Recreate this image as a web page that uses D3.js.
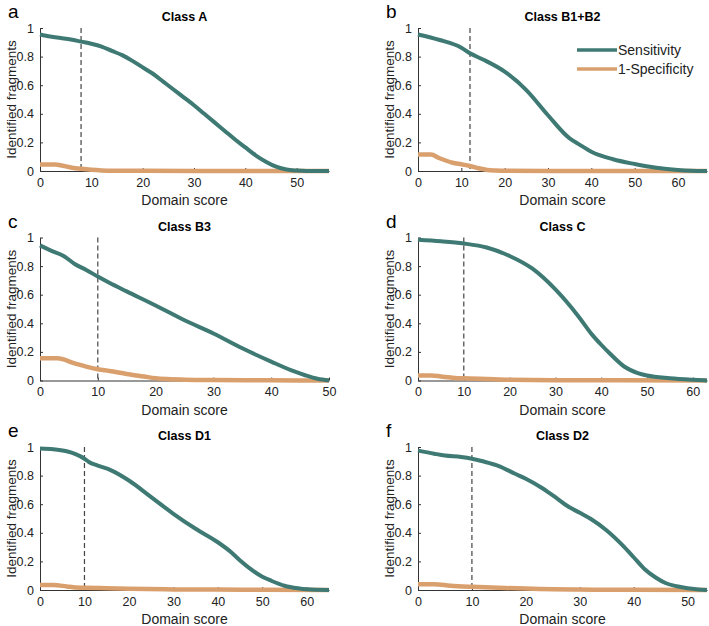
<!DOCTYPE html>
<html>
<head>
<meta charset="utf-8">
<script src="https://cdn.jsdelivr.net/npm/d3@7"></script>
<style>
  body { margin: 0; background: #fff; }
  svg { display: block; font-family: "Liberation Sans", Arial, Helvetica, sans-serif; }
</style>
</head>
<body>
<svg id="chart" width="709" height="626"></svg>
<script>
// panel letters, titles, x range and threshold
var letters = ["a", "b", "c", "d", "e", "f"];
var titles = ["Class A", "Class B1+B2", "Class B3", "Class C", "Class D1", "Class D2"];
var xMax = [56.3, 66.7, 50, 63.1, 65, 53.6];
var thresholds = [8, 12, 10, 10, 10, 10];
var yTicks = [0, 0.2, 0.4, 0.6, 0.8, 1];
var seriesNames = ["Sensitivity", "1-Specificity"];

// [score, fraction]
var sensA = [[0,.955],[2,.94],[4,.93],[6,.92],[8,.905],[10,.89],[12,.87],[14,.84],[16,.81],[18,.77],[20,.725],[22,.68],[24,.625],[26,.57],[28,.515],[30,.46],[32,.40],[34,.34],[36,.28],[38,.22],[40,.165],[42,.11],[44,.065],[46,.03],[48,.01],[50,.003],[52,0],[56.3,0]];
var specA = [[0,.045],[3,.045],[4,.04],[6,.025],[8,.015],[10,.008],[12,.004],[15,.002],[20,.001],[30,0],[56.3,0]];

var sensB = [[0,.955],[5,.916],[10,.862],[12,.823],[15,.78],[20,.695],[25,.566],[30,.39],[35,.228],[37,.19],[40,.135],[45,.082],[50,.049],[55,.023],[60,.007],[63,.002],[66.7,0]];
var specB = [[0,.115],[3,.115],[5,.089],[8,.058],[10,.047],[12,.035],[14,.019],[16,.007],[18,.003],[20,.001],[30,0],[66.7,0]];

var sensC = [[0,.945],[2,.907],[4,.873],[6,.815],[8,.773],[10,.727],[12,.683],[15,.623],[20,.525],[25,.421],[30,.329],[35,.225],[40,.132],[44,.063],[46,.035],[48,.012],[50,0]];
var specC = [[0,.155],[3,.155],[6,.12],[8,.097],[10,.079],[12,.067],[15,.046],[18,.028],[20,.016],[22,.01],[25,.006],[30,.003],[40,.001],[50,0]];

var sensD = [[0,.985],[5,.974],[10,.958],[15,.93],[20,.871],[25,.782],[30,.637],[35,.45],[38,.321],[40,.25],[42,.185],[45,.098],[48,.052],[50,.035],[55,.016],[60,.005],[63.1,0]];
var specD = [[0,.035],[3,.035],[5,.028],[8,.018],[10,.015],[15,.01],[20,.005],[30,.002],[45,.001],[63.1,0]];

var sensE = [[0,.99],[3,.985],[6,.97],[8,.95],[10,.918],[11,.895],[13,.87],[16,.837],[20,.766],[25,.65],[30,.533],[35,.428],[40,.334],[43,.264],[45,.206],[50,.093],[52,.065],[55,.03],[58,.012],[60,.005],[65,0]];
var specE = [[0,.035],[3,.035],[6,.025],[8,.018],[10,.016],[15,.012],[20,.008],[30,.004],[40,.003],[50,.001],[65,0]];

var sensF = [[0,.975],[3,.953],[5,.94],[8,.93],[10,.918],[12,.9],[15,.867],[18,.813],[20,.778],[23,.713],[25,.661],[28,.58],[30,.54],[32,.498],[35,.416],[38,.31],[40,.229],[42,.147],[44,.089],[46,.047],[48,.026],[50,.012],[52,.004],[53.6,0]];
var specF = [[0,.04],[3,.04],[6,.03],[10,.022],[15,.015],[20,.01],[25,.006],[30,.003],[40,.001],[53.6,0]];

var sensAll = [sensA, sensB, sensC, sensD, sensE, sensF];
var specAll = [specA, specB, specC, specD, specE, specF];

var teal = "#3e7a73", orange = "#d9a06e";
var colLeft = [40, 418];
var rowTop = [28, 237.5, 447];
var plotW = 289, plotH = 143;

var svg = d3.select("#chart");

letters.forEach(function (letter, i) {
    var col = i % 2, row = Math.floor(i / 2);
    var g = svg.append("g")
        .attr("transform", "translate(" + colLeft[col] + "," + rowTop[row] + ")");

    var x = d3.scaleLinear().domain([0, xMax[i]]).range([0, plotW]);
    var y = d3.scaleLinear().domain([0, 1]).range([plotH, 0]);

    // axes, ticks pointing inward like the original
    var xAxis = d3.axisBottom(x)
        .tickValues(d3.range(0, xMax[i] + 0.01, 10))
        .tickSizeInner(-3).tickSizeOuter(0).tickPadding(7);
    var yAxis = d3.axisLeft(y)
        .tickValues(yTicks)
        .tickFormat(function (d) { return d; })
        .tickSizeInner(-3).tickSizeOuter(0).tickPadding(6);

    var gx = g.append("g").attr("transform", "translate(0," + plotH + ")").call(xAxis);
    var gy = g.append("g").call(yAxis);
    [gx, gy].forEach(function (a) {
        a.select(".domain").attr("stroke", "#333").attr("stroke-width", 1);
        a.selectAll(".tick line").attr("stroke", "#333");
        a.selectAll("text").attr("fill", "#222").style("font-size", "12.5px");
    });

    // threshold
    g.append("line")
        .attr("x1", x(thresholds[i])).attr("x2", x(thresholds[i]))
        .attr("y1", y(1)).attr("y2", y(0))
        .attr("stroke", "#444").attr("stroke-width", 1.2)
        .attr("stroke-dasharray", "5,3");

    var line = d3.line()
        .x(function (d) { return x(d[0]); })
        .y(function (d) { return y(d[1]); })
        .curve(d3.curveMonotoneX);

    g.append("path").datum(specAll[i])
        .attr("d", line).attr("fill", "none")
        .attr("stroke", orange).attr("stroke-width", 4.5)
        .attr("stroke-linejoin", "round");
    g.append("path").datum(sensAll[i])
        .attr("d", line).attr("fill", "none")
        .attr("stroke", teal).attr("stroke-width", 4)
        .attr("stroke-linejoin", "round");

    // title, axis labels, panel letter
    g.append("text")
        .attr("x", plotW / 2).attr("y", -7)
        .attr("text-anchor", "middle")
        .style("font-size", "12.5px").style("font-weight", "bold")
        .text(titles[i]);
    g.append("text")
        .attr("x", plotW / 2).attr("y", plotH + 34)
        .attr("text-anchor", "middle")
        .style("font-size", "14px").attr("fill", "#222")
        .text("Domain score");
    g.append("text")
        .attr("transform", "translate(-24," + (plotH / 2) + ")rotate(-90)")
        .attr("text-anchor", "middle")
        .style("font-size", "13.5px").attr("fill", "#222")
        .text("Identified fragments");
    g.append("text")
        .attr("x", -32).attr("y", -10)
        .style("font-size", "19px")
        .text(letter);

    if (i == 1) {
        var legend = g.append("g").attr("transform", "translate(159,22)");
        [teal, orange].forEach(function (c, k) {
            legend.append("line")
                .attr("x1", 0).attr("x2", 40)
                .attr("y1", k * 19).attr("y2", k * 19)
                .attr("stroke", c).attr("stroke-width", 3.5);
            legend.append("text")
                .attr("x", 41).attr("y", k * 19 + 5)
                .style("font-size", "14px").attr("fill", "#222")
                .text(seriesNames[k]);
        });
    }
});
</script>
</body>
</html>
